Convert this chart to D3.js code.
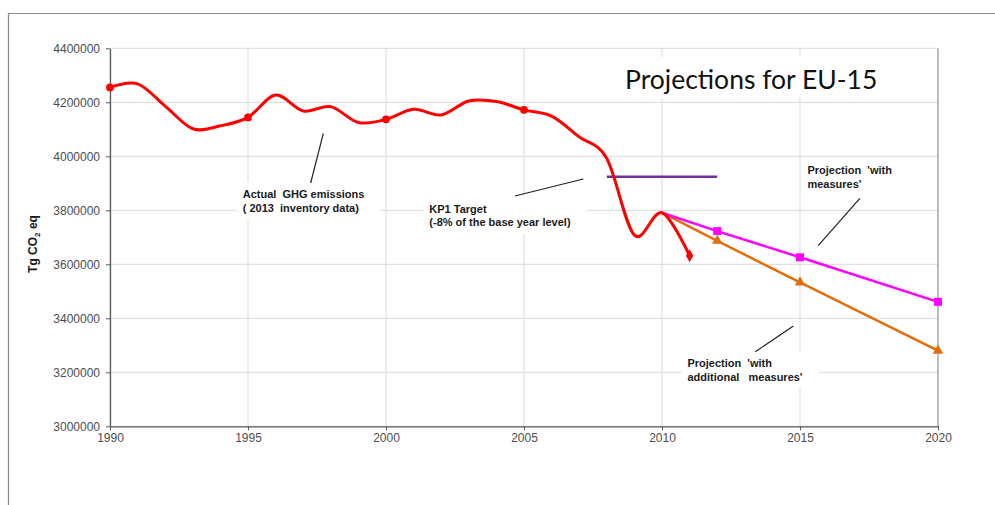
<!DOCTYPE html>
<html>
<head>
<meta charset="utf-8">
<script src="https://cdn.jsdelivr.net/npm/d3@7"></script>
<style>
  body { margin: 0; background: #fff; }
  text { font-family: "Liberation Sans", Arial, sans-serif; }
</style>
</head>
<body>
<div class="canvas"></div>
<script>
// data
const years = d3.range(1990, 2012);
const actual = [4255000, 4268000, 4186000, 4102000, 4113000, 4144000, 4227000, 4168000, 4184000, 4125000,
                4137000, 4174000, 4153000, 4205000, 4203000, 4172000, 4149000, 4072000, 3992000, 3708000,
                3791000, 3632000];
const markedYears = [1990, 1995, 2000, 2005, 2011];
const projYears = [2010, 2012, 2015, 2020];
const withMeasures = [3791000, 3723000, 3626000, 3461000];
const withAdditional = [3791000, 3687000, 3533000, 3280000];
const targetYears = [2008, 2012];
const kp1Target = [3924000, 3924000];
const xTicks = [1990, 1995, 2000, 2005, 2010, 2015, 2020];
const yTicks = d3.range(3000000, 4400001, 200000);

// annotations (year, value)
const notes = [
  {lines: ['Actual  GHG emissions', '( 2013  inventory data)'], at: [1994.81, 3844400], pointer: [[1997.73, 4085200], [1997.27, 3901100]]},
  {lines: ['KP1 Target', '(-8% of the base year level)'], at: [2001.57, 3791000], pointer: [[2004.67, 3853000], [2007.15, 3916000]]},
  {lines: ["Projection  'with", "measures'"], at: [2015.27, 3934400], pointer: [[2017.17, 3844000], [2015.66, 3669000]]},
  {lines: ["Projection  'with", "additional   measures'"], at: [2010.92, 3218500], pointer: [[2014.76, 3371500], [2013.38, 3276000]]}
];

// dimensions
const dims = {width: 995, height: 505};
const margin = {left: 110, top: 48.3, right: 57, bottom: 78.7};
const inner = {w: dims.width - margin.left - margin.right, h: dims.height - margin.top - margin.bottom};

const svg = d3.select('.canvas').append('svg')
    .attr('width', dims.width)
    .attr('height', dims.height);

// outer frame
svg.append('path')
    .attr('d', `M8.5,${dims.height} L8.5,13.5 L${dims.width},13.5`)
    .attr('fill', 'none')
    .attr('stroke', '#8c8c8c')
    .attr('stroke-width', 1.2);

const graph = svg.append('g')
    .attr('transform', `translate(${margin.left}, ${margin.top})`);

const x = d3.scaleLinear().domain([1990, 2020]).range([0, inner.w]);
const y = d3.scaleLinear().domain([3000000, 4400000]).range([inner.h, 0]);

// gridlines
graph.append('g')
    .selectAll('line.h').data(yTicks).join('line')
    .attr('x1', 0).attr('x2', inner.w)
    .attr('y1', d => y(d)).attr('y2', d => y(d))
    .attr('stroke', '#d9d9d9');
graph.append('g')
    .selectAll('line.v').data(xTicks).join('line')
    .attr('y1', 0).attr('y2', inner.h)
    .attr('x1', d => x(d)).attr('x2', d => x(d))
    .attr('stroke', '#d9d9d9');

// right border of plot
graph.append('line')
    .attr('x1', inner.w).attr('x2', inner.w).attr('y1', 0).attr('y2', inner.h)
    .attr('stroke', '#8c8c8c');

// axes
const xAxis = d3.axisBottom(x).tickValues(xTicks).tickFormat(d3.format('d')).tickSizeInner(4).tickSizeOuter(0);
const yAxis = d3.axisLeft(y).tickValues(yTicks).tickFormat(d3.format('d')).tickSizeInner(4).tickSizeOuter(0);

const gx = graph.append('g').attr('transform', `translate(0, ${inner.h})`).call(xAxis);
const gy = graph.append('g').call(yAxis);
[gx, gy].forEach(g => {
  g.select('.domain').attr('stroke', '#595959').attr('stroke-width', 1.3);
  g.selectAll('.tick line').attr('stroke', '#595959');
  g.selectAll('.tick text').attr('fill', '#4d4d4d').style('font-size', '12px')
    .style('font-family', '"Liberation Sans", Arial, sans-serif');
});
gy.selectAll('.tick text').attr('x', -10);
gx.selectAll('.tick text').attr('y', 7);

// y label
svg.append('text')
    .attr('transform', 'translate(37, 244) rotate(-90)')
    .attr('text-anchor', 'middle')
    .style('font-size', '12px')
    .style('font-weight', 'bold')
    .attr('fill', '#1a1a1a')
    .html('Tg CO<tspan font-size="8px" dy="3">2</tspan><tspan dy="-3"> eq</tspan>');

// title with white box
svg.append('rect').attr('x', 614).attr('y', 57).attr('width', 272).attr('height', 41).attr('fill', '#fff');
svg.append('text')
    .attr('x', 625).attr('y', 89.3)
    .style('font-family', 'Lato, "Open Sans", sans-serif')
    .style('font-size', '26.5px')
    .attr('fill', '#111')
    .text('Projections for EU-15');

// annotations
const noteG = graph.append('g');
notes.forEach(n => {
  const g = noteG.append('g');
  const t = g.append('text')
      .attr('x', x(n.at[0])).attr('y', y(n.at[1]))
      .style('font-size', '11px').style('font-weight', 'bold')
      .attr('fill', '#1a1a1a');
  n.lines.forEach((l, i) => {
    t.append('tspan').attr('x', x(n.at[0])).attr('dy', i === 0 ? 0 : 13.5)
      .attr('xml:space', 'preserve').style('white-space', 'pre').text(l);
  });
  const bb = t.node().getBBox();
  g.insert('rect', 'text')
      .attr('x', bb.x - 6).attr('y', bb.y - 6)
      .attr('width', bb.width + 22).attr('height', bb.height + 12)
      .attr('fill', '#fff');
  g.append('line')
      .attr('x1', x(n.pointer[0][0])).attr('y1', y(n.pointer[0][1]))
      .attr('x2', x(n.pointer[1][0])).attr('y2', y(n.pointer[1][1]))
      .attr('stroke', '#222').attr('stroke-width', 1.2);
});

// KP1 target
const line = d3.line().x(d => x(d[0])).y(d => y(d[1]));
graph.append('path')
    .attr('d', line(d3.zip(targetYears, kp1Target)))
    .attr('fill', 'none').attr('stroke', '#7030a0').attr('stroke-width', 2.5);

// projections
const proj = [
  {vals: withAdditional, color: '#e46c0a', sym: d3.symbolTriangle, size: 48},
  {vals: withMeasures, color: '#ff00ff', sym: d3.symbolSquare, size: 64}
];
proj.forEach(p => {
  const pts = d3.zip(projYears, p.vals);
  graph.append('path')
      .attr('d', line(pts))
      .attr('fill', 'none').attr('stroke', p.color).attr('stroke-width', 2.5);
  graph.append('g').selectAll('path').data(pts.slice(1)).join('path')
      .attr('transform', d => `translate(${x(d[0])}, ${y(d[1])})`)
      .attr('d', d3.symbol().type(p.sym).size(p.size))
      .attr('fill', p.color);
});

// actual emissions, smoothed like the spreadsheet line
const actualPts = d3.zip(years, actual);
const smooth = d3.line().x(d => x(d[0])).y(d => y(d[1])).curve(d3.curveCardinal.tension(0));
graph.append('path')
    .attr('d', smooth(actualPts))
    .attr('fill', 'none').attr('stroke', '#ff0000').attr('stroke-width', 3);
graph.append('g').selectAll('path').data(actualPts.filter(d => markedYears.includes(d[0]))).join('path')
    .attr('transform', d => `translate(${x(d[0])}, ${y(d[1])})`)
    .attr('d', (d, i, all) => d3.symbol().type(i === all.length - 1 ? d3.symbolDiamond : d3.symbolCircle).size(48)())
    .attr('fill', '#ff0000');
</script>
</body>
</html>
